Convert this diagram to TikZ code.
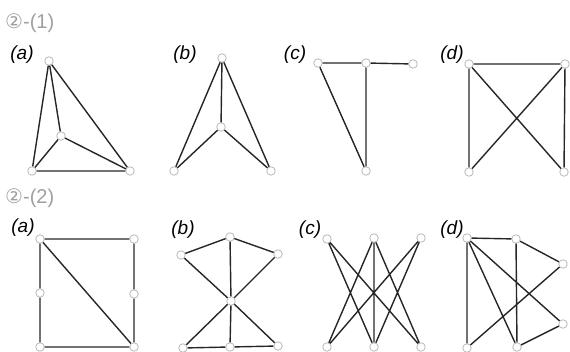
\documentclass[tikz,border=0pt]{standalone}
\usepackage{fontspec}
\setmainfont{Liberation Sans}
\newfontfamily\circfont{DejaVu Sans}
\usetikzlibrary{positioning}

\begin{document}
\begin{tikzpicture}[x=1pt, y=-1pt, font=\fontsize{16}{18}\selectfont,
  vtx/.style={circle, draw=gray!55, fill=white, line width=0.8pt, inner sep=0pt, minimum size=8.5pt},
  edge/.style={line width=1.4pt, black!85},
  part/.style={anchor=west, text=gray!75, inner sep=0pt, font=\fontsize{20}{22}\selectfont},
  tag/.style={font=\fontsize{19}{20}\selectfont\itshape, inner sep=0pt}]
\useasboundingbox (0,0) rectangle (570,352);

% part (1)
\node[part] (hone) at (5,23) {{\circfont ②}-(1)};
\node[tag] (la) at (22,55) {(a)};
\node[tag] (lb) at (185,55) {(b)};
\node[tag] (lc) at (295,55) {(c)};
\node[tag] (ld) at (452,55) {(d)};

\node[vtx] (aT) at (49,61) {};
\node[vtx] (aI) at (61,136) {};
\node[vtx] (aL) at (32,171) {};
\node[vtx] (aR) at (130,171) {};
\draw[edge] (aT) -- (aL) (aT) -- (aI) (aT) -- (aR) (aI) -- (aL) (aI) -- (aR) (aL) -- (aR);

\node[vtx] (bT) at (222,58) {};
\node[vtx] (bM) at (221,127) {};
\node[vtx] (bL) at (174,171) {};
\node[vtx] (bR) at (271,171) {};
\draw[edge] (bT) -- (bM) (bT) -- (bL) (bT) -- (bR) (bM) -- (bL) (bM) -- (bR);

\node[vtx] (cL) at (318,63) {};
\node[vtx] (cM) at (366,63) {};
\node[vtx] (cR) at (413,64) {};
\node[vtx] (cB) at (366,171) {};
\draw[edge] (cL) -- (cM) (cM) -- (cR) (cL) -- (cB) (cM) -- (cB);

\node[vtx] (dTL) at (469,64) {};
\node[vtx] (dTR) at (565,64) {};
\node[vtx] (dBL) at (469,172) {};
\node[vtx] (dBR) at (564,172) {};
\draw[edge] (dTL) -- (dTR) (dTL) -- (dBL) (dTR) -- (dBR) (dTL) -- (dBR) (dTR) -- (dBL);

% part (2)
\node[part] (htwo) at (5,198) {{\circfont ②}-(2)};
\node[tag] (ma) at (23,228) {(a)};
\node[tag] (mb) at (183,230) {(b)};
\node[tag] (mc) at (310,230) {(c)};
\node[tag] (md) at (452,230) {(d)};

\node[vtx] (eTL) at (40,239) {};
\node[vtx] (eTR) at (134,239) {};
\node[vtx] (eML) at (40,293) {};
\node[vtx] (eMR) at (134,294) {};
\node[vtx] (eBL) at (40,347) {};
\node[vtx] (eBR) at (134,347) {};
\draw[edge] (eTL) -- (eTR) (eTL) -- (eML) (eML) -- (eBL) (eBL) -- (eBR) (eTR) -- (eMR) (eMR) -- (eBR) (eTL) -- (eBR);

\node[vtx] (fT) at (230,237) {};
\node[vtx] (fL) at (181,255) {};
\node[vtx] (fR) at (278,254) {};
\node[vtx] (fC) at (231,301) {};
\node[vtx] (fBL) at (183,348) {};
\node[vtx] (fBM) at (230,347) {};
\node[vtx] (fBR) at (278,346) {};
\draw[edge] (fT) -- (fL) (fT) -- (fR) (fT) -- (fC) (fC) -- (fBM) (fL) -- (fC) (fC) -- (fBR)
  (fR) -- (fC) (fC) -- (fBL) (fBL) -- (fBM) (fBM) -- (fBR);

\node[vtx] (gT1) at (327,239) {};
\node[vtx] (gT2) at (374,238) {};
\node[vtx] (gT3) at (421,238) {};
\node[vtx] (gB1) at (327,347) {};
\node[vtx] (gB2) at (374,347) {};
\node[vtx] (gB3) at (421,347) {};
\draw[edge] (gT1) -- (gB2) (gT1) -- (gB3) (gT2) -- (gB1) (gT2) -- (gB2) (gT2) -- (gB3)
  (gT3) -- (gB1) (gT3) -- (gB2);

\node[vtx] (hTL) at (467,238) {};
\node[vtx] (hTM) at (516,239) {};
\node[vtx] (hR1) at (563,264) {};
\node[vtx] (hR2) at (563,324) {};
\node[vtx] (hBL) at (467,348) {};
\node[vtx] (hBM) at (517,347) {};
\draw[edge] (hTL) -- (hTM) (hTL) -- (hBL) (hTL) -- (hBM) (hTL) -- (hR2) (hTM) -- (hBM)
  (hTM) -- (hR1) (hR1) -- (hBL) (hR2) -- (hBM);
\end{tikzpicture}
\end{document}
